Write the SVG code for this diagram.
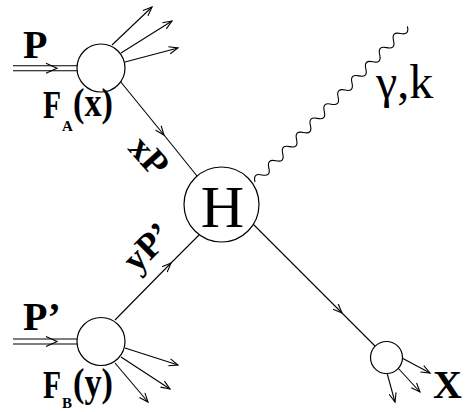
<svg xmlns="http://www.w3.org/2000/svg" width="466" height="412" viewBox="0 0 466 412">
<style>
.ln{fill:none;stroke:#000;stroke-width:1.1}
.cir{fill:#fff;stroke:#000;stroke-width:1.2}
.b{font-family:"Liberation Serif","Times New Roman",serif;font-weight:bold;fill:#000}
.r{font-family:"Liberation Serif","Times New Roman",serif;fill:#000}
</style>
<defs>
<marker id="ah" viewBox="-11 -6 13 12" markerWidth="13" markerHeight="12" refX="0" refY="0" orient="auto" markerUnits="userSpaceOnUse" overflow="visible">
<path d="M-9,-3.6 L0,0 L-9,3.6" fill="none" stroke="#000" stroke-width="1.1"/>
</marker>
</defs>
<rect width="466" height="412" fill="#fff"/>
<g id="connectors">
<path class="ln" d="M13,65.7 H78 M13,70.7 H78"/>
<path class="ln" d="M46,63.2 L57,68.2 L46,73.2"/>
<path class="ln" d="M13,339 H78 M13,344 H78"/>
<path class="ln" d="M46,336.5 L57,341.5 L46,346.5"/>
<path class="ln" marker-end="url(#ah)" d="M112,45 L152,7"/>
<path class="ln" marker-end="url(#ah)" d="M121,53 L172,21"/>
<path class="ln" marker-end="url(#ah)" d="M125,62 L178,48"/>
<path class="ln" marker-end="url(#ah)" d="M125,348 L178,365"/>
<path class="ln" marker-end="url(#ah)" d="M121,357 L170,389"/>
<path class="ln" marker-end="url(#ah)" d="M115,363 L148,402"/>
<path class="ln" marker-mid="url(#ah)" d="M120,81 L164,135 L197,176"/>
<path class="ln" marker-mid="url(#ah)" d="M115,320 L171,263 L199,235"/>
<path class="ln" marker-mid="url(#ah)" d="M253,224 L342,313 L375,346"/>
<path class="ln" marker-end="url(#ah)" d="M402,358 L430,373"/>
<path class="ln" marker-end="url(#ah)" d="M398,368 L420,392"/>
<path class="ln" marker-end="url(#ah)" d="M387,373 L395,402"/>
<path class="ln" transform="translate(255,182) rotate(-45.6)" d="M0,0 q4.95,-8 9.9,0 t9.9,0 t9.9,0 t9.9,0 t9.9,0 t9.9,0 t9.9,0 t9.9,0 t9.9,0 t9.9,0 t9.9,0 t9.9,0 t9.9,0 t9.9,0 t9.9,0 t9.9,0 t9.9,0 t9.9,0 t9.9,0 t9.9,0 t9.9,0 t9.9,0"/>
</g>
<g id="blobA">
<circle class="cir" cx="101" cy="68" r="24"/>
</g>
<g id="blobB">
<circle class="cir" cx="101" cy="341.5" r="24"/>
</g>
<g id="hard">
<circle class="cir" cx="221.5" cy="204.5" r="37.5"/>
<text class="r" x="222.5" y="227" font-size="60" text-anchor="middle">H</text>
</g>
<g id="blobX">
<circle class="cir" cx="386.5" cy="357.5" r="16"/>
</g>
<g id="labels">
<text class="b" x="23" y="58" font-size="40">P</text>
<text class="b" transform="translate(43,118) scale(0.74,1)" font-size="40">F</text>
<text class="b" x="62" y="131" font-size="15">A</text>
<text class="b" x="73" y="116" font-size="40" textLength="40" lengthAdjust="spacingAndGlyphs">(x)</text>
<text class="b" x="23" y="330" font-size="40">P’</text>
<text class="b" transform="translate(43,398) scale(0.74,1)" font-size="40">F</text>
<text class="b" x="62" y="408" font-size="15">B</text>
<text class="b" x="73" y="396" font-size="40" textLength="40" lengthAdjust="spacingAndGlyphs">(y)</text>
<text class="b" transform="translate(127,149) rotate(48)" font-size="36">xP</text>
<text class="b" transform="translate(137,274) rotate(-45)" font-size="36">yP’</text>
<text class="r" x="376" y="98" font-size="48">γ,k</text>
<text class="b" x="433" y="398" font-size="40">X</text>
</g>
</svg>
